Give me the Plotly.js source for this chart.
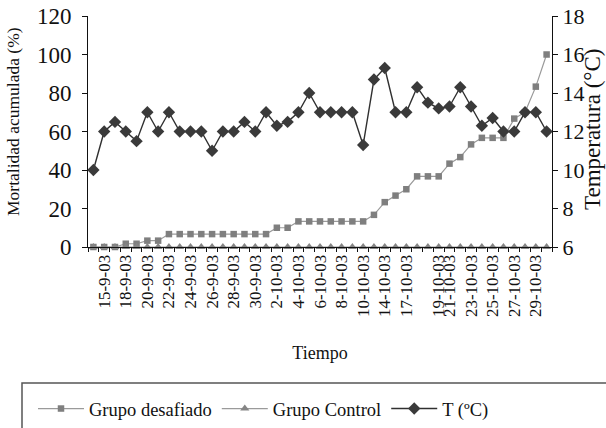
<!DOCTYPE html>
<html>
<head>
<meta charset="utf-8">
<script src="https://cdn.plot.ly/plotly-3.0.1.min.js"></script>
<style>html,body{margin:0;padding:0;background:#fff}#chart{width:606px;height:428px}</style>
</head>
<body>
<div id="chart"></div>
<script>
// Sampling dates (category axis)
const categories = [
  "14-9-03","15-9-03","17-9-03","18-9-03","19-9-03","20-9-03","21-9-03","22-9-03","23-9-03","24-9-03",
  "25-9-03","26-9-03","27-9-03","28-9-03","29-9-03","30-9-03","1-10-03","2-10-03","3-10-03","4-10-03",
  "5-10-03","6-10-03","7-10-03","8-10-03","9-10-03","10-10-03","12-10-03","14-10-03","15-10-03","17-10-03",
  "18-10-03","19-10-03","20-10-03","21-10-03","22-10-03","23-10-03","24-10-03","25-10-03","26-10-03","27-10-03",
  "28-10-03","29-10-03","30-10-03"
];
// Tick labels as printed under the axis ('' = no label)
const tickLabels = [
  "","15-9-03","","18-9-03","","20-9-03","","22-9-03","","24-9-03",
  "","26-9-03","","28-9-03","","30-9-03","","2-10-03","","4-10-03",
  "","6-10-03","","8-10-03","","10-10-03","","14-10-03","","17-10-03",
  "","","19-10-03","21-10-03","","23-10-03","","25-10-03","","27-10-03",
  "","29-10-03",""
];
// Mortalidad acumulada (%)
const grupoDesafiado = [
  0,0,0,1.7,1.7,3.3,3.3,6.7,6.7,6.7,
  6.7,6.7,6.7,6.7,6.7,6.7,6.7,10,10,13.3,
  13.3,13.3,13.3,13.3,13.3,13.3,16.7,23.3,26.7,30,
  36.7,36.7,36.7,43.3,46.7,53.3,56.7,56.7,56.7,66.7,
  70,83.3,100
];
const grupoControl = [
  0,0,0,0,0,0,0,0,0,0,
  0,0,0,0,0,0,0,0,0,0,
  0,0,0,0,0,0,0,0,0,0,
  0,0,0,0,0,0,0,0,0,0,
  0,0,0
];
// Temperatura (°C)
const temperatura = [
  10,12,12.5,12,11.5,13,12,13,12,12,
  12,11,12,12,12.5,12,13,12.3,12.5,13,
  14,13,13,13,13,11.3,14.7,15.3,13,13,
  14.3,13.5,13.2,13.3,14.3,13.3,12.3,12.7,12,12,
  13,13,12
];
const titles = {
  x: "Tiempo",
  yLeft: "Mortalidad acumulada (%)",
  yRight: "Temperatura (°C)"
};

const FONT = "Liberation Serif";
const INK = "#111";
const W = 606, H = 428;
const M = {l: 88, r: 54, t: 16, b: 181};
const pw = W - M.l - M.r, ph = H - M.t - M.b;
const px2x = p => (p - M.l) / pw;
const py2y = p => (H - M.b - p) / ph;

const traces = [
  {
    x: categories, y: grupoDesafiado, name: "Grupo desafiado", type: "scatter", mode: "lines+markers",
    line: {color: "#9a9a9a", width: 1.2},
    marker: {symbol: "square", size: 6.5, color: "#7f7f7f"},
    cliponaxis: false
  },
  {
    x: categories, y: grupoControl, name: "Grupo Control", type: "scatter", mode: "lines+markers",
    line: {color: "#9a9a9a", width: 1.2},
    marker: {symbol: "triangle-up", size: 8, color: "#858585"},
    cliponaxis: false
  },
  {
    x: categories, y: temperatura, name: "T (ºC)", type: "scatter", mode: "lines+markers", yaxis: "y2",
    line: {color: "#303030", width: 1.4},
    marker: {symbol: "diamond", size: 9.5, color: "#3a3a3a"},
    cliponaxis: false
  }
];

const layout = {
  width: W, height: H,
  margin: M,
  paper_bgcolor: "#fff", plot_bgcolor: "#fff",
  font: {family: FONT, size: 16, color: INK},
  showlegend: true,
  legend: {
    orientation: "h", xref: "container", yref: "container",
    x: 33 / W, y: 1 - 409 / H, xanchor: "left", yanchor: "middle",
    bgcolor: "rgba(0,0,0,0)", borderwidth: 0,
    font: {family: FONT, size: 18.5, color: INK},
    itemwidth: 46
  },
  xaxis: {
    type: "category", categoryorder: "array", categoryarray: categories,
    range: [-0.5, categories.length - 0.5],
    tickmode: "array", tickvals: categories, ticktext: tickLabels,
    tickson: "boundaries", ticks: "outside", ticklen: 4, tickcolor: INK, tickwidth: 1,
    tickangle: -90, tickfont: {family: FONT, size: 17, color: INK},
    showline: true, linecolor: INK, linewidth: 1,
    showgrid: false, zeroline: false, automargin: false,
    title: {text: titles.x, font: {family: FONT, size: 18, color: INK}, standoff: 30}
  },
  yaxis: {
    range: [0, 120], tickmode: "linear", tick0: 0, dtick: 20,
    ticks: "outside", ticklen: 5, tickcolor: INK, ticklabelstandoff: 6,
    showline: true, linecolor: INK, linewidth: 1,
    showgrid: false, zeroline: false, automargin: false,
    tickfont: {family: FONT, size: 23, color: INK}
  },
  yaxis2: {
    overlaying: "y", side: "right", range: [6, 18], tickmode: "linear", tick0: 6, dtick: 2,
    ticks: "outside", ticklen: 5, tickcolor: INK,
    showline: true, linecolor: INK, linewidth: 1,
    showgrid: false, zeroline: false, automargin: false,
    tickfont: {family: FONT, size: 22, color: INK}
  },
  annotations: [
    {text: titles.yLeft, xref: "paper", yref: "paper", x: px2x(13), y: py2y(122),
     xanchor: "center", yanchor: "middle", textangle: -90, showarrow: false,
     font: {family: FONT, size: 17.5, color: INK}},
    {text: titles.yRight, xref: "paper", yref: "paper", x: px2x(592), y: py2y(130),
     xanchor: "center", yanchor: "middle", textangle: -90, showarrow: false,
     font: {family: FONT, size: 23, color: INK}}
  ],
  shapes: [
    {type: "rect", xref: "paper", yref: "paper",
     x0: px2x(22), x1: px2x(612), y0: py2y(383), y1: py2y(440),
     line: {color: "#555", width: 1.5}, fillcolor: "rgba(0,0,0,0)"}
  ]
};

Plotly.newPlot("chart", traces, layout, {displayModeBar: false, staticPlot: true});
</script>
</body>
</html>
